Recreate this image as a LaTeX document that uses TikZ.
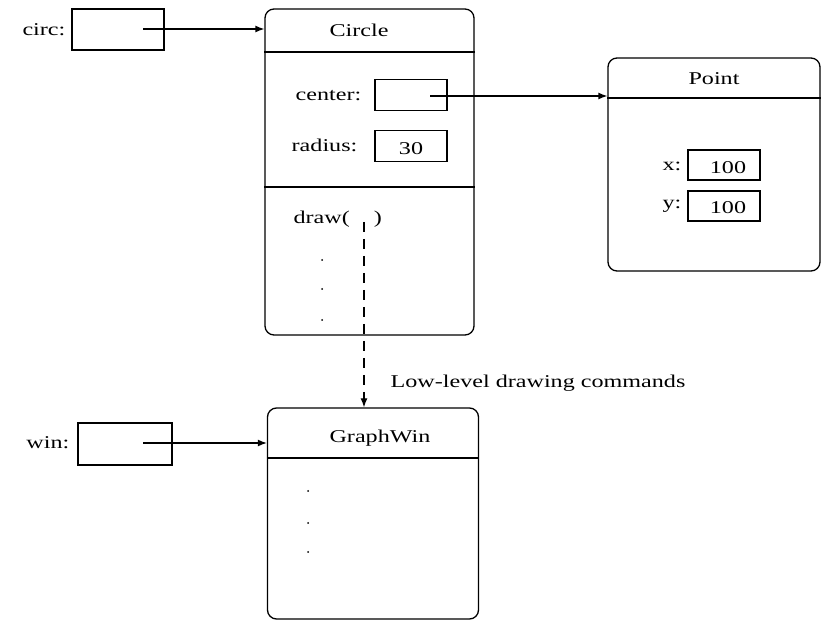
\documentclass[tikz,border=0pt]{standalone}
\usepackage{fontspec}
\setmainfont{Liberation Serif}[FakeStretch=1.34]
\usetikzlibrary{arrows.meta}
\begin{document}
\begin{tikzpicture}[x=1pt,y=-1pt,line width=1.3pt,
  txt/.style={inner sep=0pt,font=\fontsize{18}{21}\selectfont},
  objbox/.style={draw,rounded corners=9pt,inner sep=0pt},
  varbox/.style={draw,inner sep=0pt},
  ptr/.style={-{Latex[length=9pt,width=7pt]}},
  dotmark/.style={circle,fill,inner sep=0pt,minimum size=2pt}]
\useasboundingbox (0,0) rectangle (823,620);
% Circle object
\node[objbox,minimum width=209pt,minimum height=326pt] (circleobj) at (369.5,172) {};
\draw (circleobj.west |- 0,52) -- (circleobj.east |- 0,52);
\draw (circleobj.west |- 0,187) -- (circleobj.east |- 0,187);
\node[txt] (circlet) at (359,30) {Circle};
\node[txt,anchor=east] (centerl) at (362,96) {center:};
\node[varbox,minimum width=72pt,minimum height=31pt] (centerbox) at (411,95) {};
\node[txt,anchor=east] (radiusl) at (358,145) {radius:};
\node[varbox,minimum width=72pt,minimum height=31pt] (radiusbox) at (411,146) {};
\node[txt] (radiusv) at (411,149) {30};
\node[txt,anchor=west] (drawl) at (293,219) {draw(};
\node[txt] (drawr) at (378,219) {)};
\node[dotmark] (cd1) at (322,260) {};
\node[dotmark] (cd2) at (322,289) {};
\node[dotmark] (cd3) at (322,320) {};
% circ variable
\node[txt,anchor=east] (circl) at (66,30) {circ:};
\node[varbox,minimum width=92pt,minimum height=41pt] (circbox) at (118,29.5) {};
\coordinate (circdot) at (143,29);
\draw[ptr] (circdot) -- (circdot -| circleobj.west);
% Point object
\node[objbox,minimum width=212pt,minimum height=213pt] (pointobj) at (714,164.5) {};
\draw (pointobj.west |- 0,98) -- (pointobj.east |- 0,98);
\node[txt] (pointt) at (714,79) {Point};
\node[txt,anchor=east] (xl) at (682,166) {x:};
\node[varbox,minimum width=72pt,minimum height=30pt] (xbox) at (724,165) {};
\node[txt] (xv) at (728,168) {100};
\node[txt,anchor=east] (yl) at (682,206) {y:};
\node[varbox,minimum width=72pt,minimum height=30pt] (ybox) at (724,206) {};
\node[txt] (yv) at (728,208) {100};
\coordinate (centerdot) at (430,96);
\draw[ptr] (centerdot) -- (centerdot -| pointobj.west);
% GraphWin object
\node[objbox,minimum width=211pt,minimum height=211pt] (gwobj) at (373,513.5) {};
\draw (gwobj.west |- 0,458) -- (gwobj.east |- 0,458);
\node[txt] (gwt) at (380,438) {GraphWin};
\node[dotmark] (gd1) at (308,491) {};
\node[dotmark] (gd2) at (308,523) {};
\node[dotmark] (gd3) at (308,552) {};
% win variable
\node[txt,anchor=east] (winl) at (70,443) {win:};
\node[varbox,minimum width=94pt,minimum height=42pt] (winbox) at (125,444) {};
\coordinate (windot) at (143,443);
\draw[ptr] (windot) -- (windot -| gwobj.west);
% dashed call
\coordinate (calls) at (364,222);
\draw[ptr,dash pattern=on 10pt off 7pt] (calls) -- (calls |- gwobj.north);
\node[txt,anchor=west] (lowl) at (390,383) {Low-level drawing commands};
\end{tikzpicture}
\end{document}
